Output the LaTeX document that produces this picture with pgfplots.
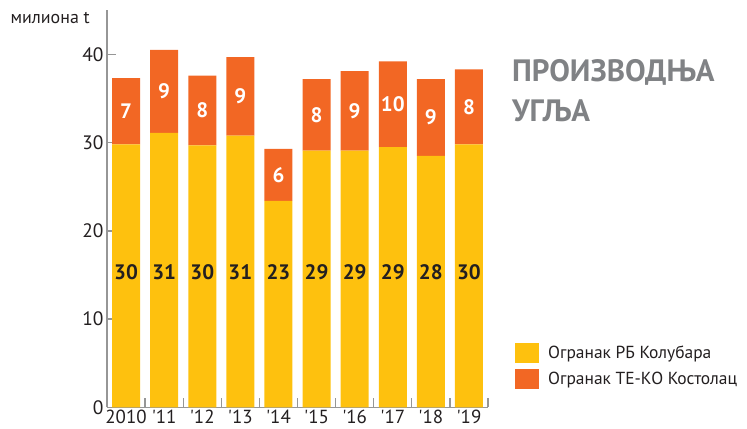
\documentclass[border=0pt]{standalone}
\usepackage{pgfplots}
\pgfplotsset{compat=1.18}
\usepackage{fontspec}
\setmainfont{PT Sans}
\definecolor{yel}{RGB}{254,193,14}
\definecolor{ora}{RGB}{242,103,36}
\definecolor{axg}{RGB}{150,150,150}
\definecolor{txt}{RGB}{35,31,32}
\definecolor{ttl}{RGB}{128,130,133}
\newcommand\ap{\XeTeXglyph\XeTeXcharglyph"0027\relax}
\begin{document}
\begin{tikzpicture}
\path[use as bounding box] (0,0) rectangle (747bp,429bp);
\pgfplotsset{base/.style={
  at={(107bp,21.7bp)}, anchor=south west, scale only axis,
  width=381bp, height=397bp, xmin=-0.5, xmax=9.5, ymin=0, ymax=45}}
\begin{axis}[base,
  ybar stacked, bar width=28bp,
  axis x line=bottom, axis y line=left,
  axis line style={-, draw=axg, line width=1.3bp},
  tick align=inside, major tick length=9bp,
  tick style={draw=axg, line width=1.3bp},
  ytick={0,10,20,30,40},
  yticklabel style={font=\fontsize{19.5}{21}\selectfont, text=txt},
  /pgf/number format/assume math mode=true,
  xtick={0.5,1.5,...,9.5}, xticklabels={},
  extra x ticks={0,1,...,9},
  extra x tick labels={2010,\ap11,\ap12,\ap13,\ap14,\ap15,\ap16,\ap17,\ap18,\ap19},
  extra x tick style={major tick length=0pt,
    tick label style={font=\fontsize{19}{20}\selectfont, text=txt, yshift=1bp}},
  legend style={at={(1.063,0.168)}, anchor=north west, draw=none, fill=none,
    font=\fontsize{17.5}{19}\selectfont, text=txt, row sep=6bp},
  legend cell align=left,
  legend image code/.code={\fill[#1, draw=none] (0bp,-10bp) rectangle (24bp,10bp);
    \path (31bp,0bp);},
]
\addplot[fill=yel, draw=none] coordinates {
  (0,29.8) (1,31.1) (2,29.7) (3,30.8) (4,23.4) (5,29.1) (6,29.1) (7,29.5) (8,28.5) (9,29.8)};
\addplot[fill=ora, draw=none] coordinates {
  (0,7.5) (1,9.4) (2,7.9) (3,8.9) (4,5.9) (5,8.1) (6,9.0) (7,9.7) (8,8.7) (9,8.5)};
\legend{Огранак РБ Колубара, Огранак ТЕ-КО Костолац}
\end{axis}
\begin{axis}[base, hide axis,
  every node near coord/.style={anchor=center, font=\bfseries\fontsize{21}{23}\selectfont},
  nodes near coords, point meta=explicit symbolic]
\addplot[draw=none, mark=none, nodes near coords style={text=txt}] coordinates {
  (0,15.35)[30] (1,15.35)[31] (2,15.35)[30] (3,15.35)[31] (4,15.35)[23]
  (5,15.35)[29] (6,15.35)[29] (7,15.35)[29] (8,15.35)[28] (9,15.35)[30]};
\addplot[draw=none, mark=none, nodes near coords style={text=white}] coordinates {
  (0,33.55)[7] (1,35.8)[9] (2,33.65)[8] (3,35.25)[9] (4,26.35)[6]
  (5,33.15)[8] (6,33.6)[9] (7,34.35)[10] (8,32.85)[9] (9,34.05)[8]};
\end{axis}
\node[anchor=base east, text=txt, font=\fontsize{18}{20}\selectfont, inner sep=0pt] at (90bp,405bp) {милиона t};
\node[anchor=base west, text=ttl, font=\bfseries\fontsize{31}{33}\selectfont, inner sep=0pt] at (512bp,347bp) {ПРОИЗВОДЊА};
\node[anchor=base west, text=ttl, font=\bfseries\fontsize{31}{33}\selectfont, inner sep=0pt] at (512bp,307bp) {УГЉА};
\end{tikzpicture}
\end{document}
